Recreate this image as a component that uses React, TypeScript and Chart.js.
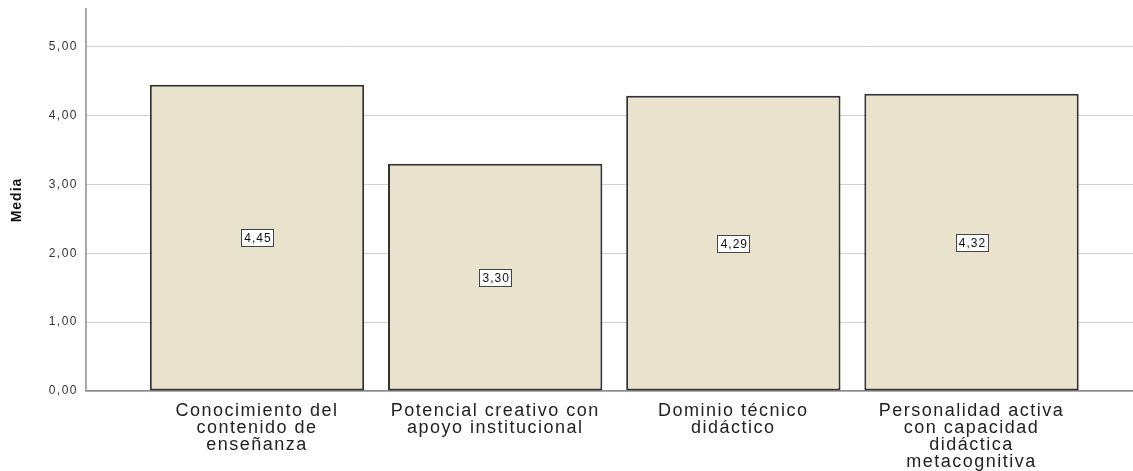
import React, { useEffect, useRef } from "react";
import { Chart, registerables } from "chart.js";

Chart.register(...registerables);

const categoryLines: string[][] = [
  ["Conocimiento del", "contenido de", "enseñanza"],
  ["Potencial creativo con", "apoyo institucional"],
  ["Dominio técnico", "didáctico"],
  ["Personalidad activa", "con capacidad", "didáctica", "metacognitiva"],
];
const meanValues: number[] = [4.45, 3.3, 4.29, 4.32];
const yTickValues: number[] = [0, 1, 2, 3, 4, 5];
const yAxisTitle = "Media";

const FONT = '"Liberation Sans", Arial, Helvetica, sans-serif';
const fmt = (v: number) => v.toFixed(2).replace(".", ",");

function withSpacing(obj: any, method: string, spacing: string) {
  const orig = obj[method];
  obj[method] = function (...args: any[]) {
    const ctx = this.ctx;
    const prev = ctx.letterSpacing;
    ctx.letterSpacing = spacing;
    const r = orig.apply(this, args);
    ctx.letterSpacing = prev;
    return r;
  };
}

const spacingPlugin = {
  id: "letterSpacing",
  afterLayout(chart: any) {
    const x = chart.scales.x;
    const y = chart.scales.y;
    if (x && !x._lsPatched) {
      withSpacing(x, "drawLabels", "1.5px");
      x._lsPatched = true;
    }
    if (y && !y._lsPatched) {
      withSpacing(y, "drawLabels", "1.5px");
      withSpacing(y, "drawTitle", "1px");
      y._lsPatched = true;
    }
  },
};

const valueLabelPlugin = {
  id: "valueLabels",
  afterDatasetsDraw(chart: any) {
    const { ctx } = chart;
    const meta = chart.getDatasetMeta(0);
    const yScale = chart.scales.y;
    ctx.save();
    ctx.font = `12px ${FONT}`;
    (ctx as any).letterSpacing = "1px";
    meta.data.forEach((bar: any, i: number) => {
      const v = meanValues[i];
      const text = fmt(v);
      const x = bar.x;
      const y = yScale.getPixelForValue(v / 2);
      const w = Math.round(ctx.measureText(text).width + 5);
      const h = 17;
      const bx = Math.round(x - w / 2);
      const by = Math.round(y - h / 2);
      ctx.fillStyle = "#ffffff";
      ctx.fillRect(bx, by, w, h);
      ctx.strokeStyle = "#444";
      ctx.lineWidth = 1;
      ctx.strokeRect(bx + 0.5, by + 0.5, w, h);
      ctx.fillStyle = "#111";
      ctx.textAlign = "center";
      ctx.textBaseline = "middle";
      ctx.fillText(text, x + 1, y + 1);
    });
    ctx.restore();
  },
};

export default function App() {
  const canvasRef = useRef<HTMLCanvasElement | null>(null);

  useEffect(() => {
    if (!canvasRef.current) return;
    const chart = new Chart(canvasRef.current, {
      type: "bar",
      data: {
        datasets: [
          {
            data: meanValues.map((v, i) => ({ x: i, y: v })),
            backgroundColor: "#E9E3CE",
            borderColor: "#333333",
            borderWidth: 2,
            borderSkipped: false,
            barPercentage: 0.9,
            categoryPercentage: 1,
          },
        ],
      },
      options: {
        animation: false,
        responsive: true,
        maintainAspectRatio: false,
        layout: { padding: { top: 9, right: 0, bottom: 0, left: 0 } },
        plugins: {
          legend: { display: false },
          tooltip: { enabled: false },
        },
        scales: {
          x: {
            type: "linear",
            offset: false,
            min: -0.718,
            max: 3.678,
            afterBuildTicks: (axis: any) => {
              axis.ticks = categoryLines.map((_, i) => ({ value: i }));
            },
            afterFit: (axis: any) => {
              axis.height = 80;
              axis.paddingLeft = 0;
              axis.paddingRight = 0;
            },
            grid: { display: false, drawTicks: false },
            border: { display: true, color: "#8a8a8a", width: 1.5 },
            ticks: {
              autoSkip: false,
              maxRotation: 0,
              minRotation: 0,
              padding: 11,
              color: "#222",
              font: { family: FONT, size: 18, lineHeight: 0.96 },
              callback: (_v: any, index: number) => categoryLines[index],
            },
          },
          y: {
            min: 0,
            max: 5.55,
            afterBuildTicks: (axis: any) => {
              axis.ticks = yTickValues.map((v) => ({ value: v }));
            },
            afterFit: (axis: any) => {
              axis.width = 86;
              axis.paddingTop = 0;
              axis.paddingBottom = 0;
            },
            grid: { color: "#d2d2d2", lineWidth: 1, drawTicks: false },
            border: { display: true, color: "#a8a8a8", width: 2 },
            ticks: {
              padding: 8,
              color: "#333",
              font: { family: FONT, size: 12 },
              callback: (v: any) => fmt(Number(v)),
            },
            title: {
              display: true,
              text: yAxisTitle,
              color: "#111",
              padding: { top: 9, bottom: 0 },
              font: { family: FONT, size: 14, weight: "bold" },
            },
          },
        },
      },
      plugins: [spacingPlugin, valueLabelPlugin],
    } as any);
    return () => chart.destroy();
  }, []);

  return (
    <div
      style={{
        position: "absolute",
        left: 0,
        top: 0,
        width: 1133,
        height: 471,
        background: "#fff",
      }}
    >
      <canvas ref={canvasRef} />
    </div>
  );
}
